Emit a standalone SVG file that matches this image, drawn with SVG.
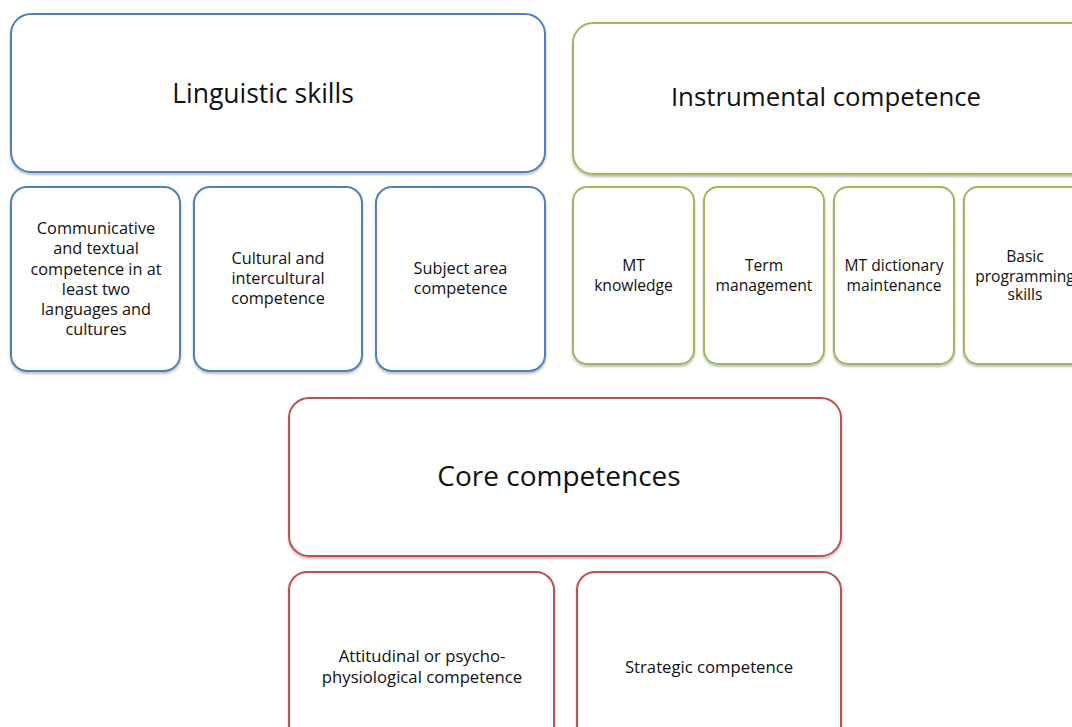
<svg xmlns="http://www.w3.org/2000/svg" width="1072" height="727" viewBox="0 0 1072 727">
<style>
  text { font-family: "Open Sans", "Liberation Sans", sans-serif; fill: #111; text-anchor: middle; }
  .big { font-size: 26.5px; }
  .sb { font-size: 16.3px; }
  .sg { font-size: 15.6px; }
  .sr { font-size: 16.7px; }
  .box { fill: #fff; stroke-width: 2; filter: url(#sh); }
  .blue { stroke: #4F81BD; }
  .green { stroke: #9BBB59; }
  .red { stroke: #C0504D; }
</style>
<defs>
  <filter id="sh" x="-10%" y="-10%" width="120%" height="125%">
    <feDropShadow dx="0" dy="2" stdDeviation="1.2" flood-color="#000" flood-opacity="0.25"/>
  </filter>
</defs>
<rect width="1072" height="727" fill="#fff"/>

<g id="linguistic">
  <rect class="box blue" x="11" y="14" width="534" height="158" rx="20"/>
  <text class="big" x="263" y="103">Linguistic skills</text>
</g>
<g id="communicative">
  <rect class="box blue" x="11" y="187" width="169" height="184" rx="16"/>
  <text class="sb" x="96" y="234">Communicative</text>
  <text class="sb" x="96" y="254">and textual</text>
  <text class="sb" x="96" y="274.5">competence in at</text>
  <text class="sb" x="96" y="294.5">least two</text>
  <text class="sb" x="96" y="315">languages and</text>
  <text class="sb" x="96" y="335">cultures</text>
</g>
<g id="cultural">
  <rect class="box blue" x="194" y="187" width="168" height="184" rx="16"/>
  <text class="sb" x="278" y="264">Cultural and</text>
  <text class="sb" x="278" y="284">intercultural</text>
  <text class="sb" x="278" y="304">competence</text>
</g>
<g id="subject">
  <rect class="box blue" x="376" y="187" width="169" height="184" rx="16"/>
  <text class="sb" x="460.5" y="274">Subject area</text>
  <text class="sb" x="460.5" y="294">competence</text>
</g>

<g id="instrumental">
  <rect class="box green" x="573" y="23" width="530" height="151" rx="20"/>
  <text class="big" x="826" y="106" style="font-size:25.8px">Instrumental competence</text>
</g>
<g id="mt-knowledge">
  <rect class="box green" x="573" y="187" width="121" height="177" rx="14"/>
  <text class="sg" x="633.5" y="271">MT</text>
  <text class="sg" x="633.5" y="290.5">knowledge</text>
</g>
<g id="term-management">
  <rect class="box green" x="704" y="187" width="120" height="177" rx="14"/>
  <text class="sg" x="764" y="271">Term</text>
  <text class="sg" x="764" y="290.5">management</text>
</g>
<g id="mt-dictionary">
  <rect class="box green" x="834" y="187" width="120" height="177" rx="14"/>
  <text class="sg" x="894" y="271">MT dictionary</text>
  <text class="sg" x="894" y="290.5">maintenance</text>
</g>
<g id="programming">
  <rect class="box green" x="964" y="187" width="121" height="177" rx="14"/>
  <text class="sg" x="1025" y="262">Basic</text>
  <text class="sg" x="1025" y="281.5">programming</text>
  <text class="sg" x="1025" y="300">skills</text>
</g>

<g id="core">
  <rect class="box red" x="289" y="398" width="552" height="158" rx="20"/>
  <text class="big" x="559" y="486" style="font-size:28px">Core competences</text>
</g>
<g id="attitudinal">
  <rect class="box red" x="289" y="572" width="265" height="175" rx="18"/>
  <text class="sr" x="422" y="662">Attitudinal or psycho-</text>
  <text class="sr" x="422" y="683">physiological competence</text>
</g>
<g id="strategic">
  <rect class="box red" x="577" y="572" width="264" height="175" rx="18"/>
  <text class="sr" x="709" y="673">Strategic competence</text>
</g>

<g id="connectors"></g>
</svg>
